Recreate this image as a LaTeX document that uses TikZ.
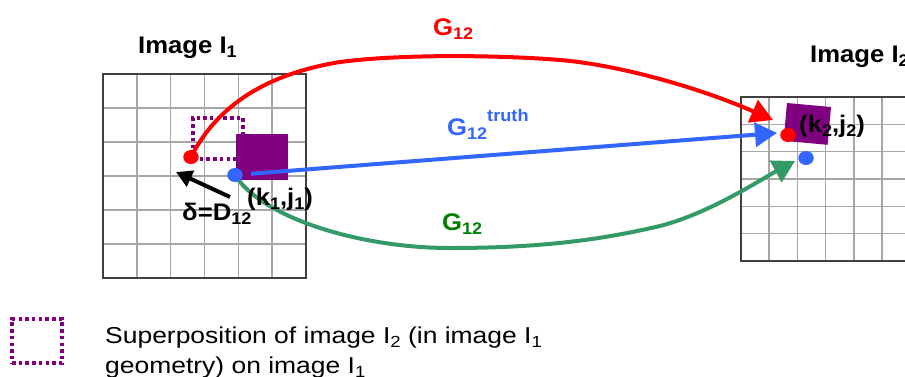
\documentclass[tikz,border=0pt]{standalone}
\usepackage{fontspec}
\usepackage{graphicx}
\setmainfont[FakeStretch=1.07]{Liberation Sans}
\newfontfamily\legfont[FakeStretch=1.15]{Liberation Sans}
\usetikzlibrary{arrows.meta}
\definecolor{pred}{HTML}{FF0000}
\definecolor{pblue}{HTML}{3366FF}
\definecolor{pgreen}{HTML}{339966}
\definecolor{tgreen}{HTML}{008000}
\definecolor{ppurple}{HTML}{800080}
\definecolor{gridgray}{HTML}{A6A6A6}
\definecolor{bordergray}{HTML}{404040}
\newcommand\sbs[1]{\raisebox{-0.2em}{\scalebox{0.7}{#1}}}
\tikzset{
  gridline/.style={draw=gridgray, line width=1.6pt},
  gridborder/.style={draw=bordergray, line width=2pt},
  dot/.style={ellipse, inner sep=0pt, minimum width=15.5pt, minimum height=14pt},
  bigtip/.style={-{Triangle[length=22pt,width=24pt]}},
  conn/.style={line width=4pt},
  lbl/.style={inner sep=0pt, anchor=base west, font=\fontsize{24}{28}\selectfont\bfseries},
  legtext/.style={inner sep=0pt, anchor=base west, font=\legfont\fontsize{23}{27}\selectfont},
  dotrect/.style={draw=ppurple, line width=3.5pt, dash pattern=on 3.5pt off 3.2pt},
}
\usetikzlibrary{shapes.geometric}
\begin{document}
\begin{tikzpicture}[x=1pt,y=-1pt]
\useasboundingbox (0,0) rectangle (905,376);
\clip (0,0) rectangle (905,376);
% ---------- image I1 grid
\foreach \i in {1,...,5} {
  \draw[gridline] ({103+\i*33.83},74) -- ({103+\i*33.83},278);
  \draw[gridline] (103,{74+\i*34}) -- (306,{74+\i*34});
}
\draw[gridborder] (103,74) rectangle (306,278);
% ---------- image I2 grid
\foreach \i in {1,...,5} {
  \draw[gridline] ({741+\i*28.2},97) -- ({741+\i*28.2},261);
  \draw[gridline] (741,{97+\i*27.33}) -- (912,{97+\i*27.33});
}
\draw[gridborder] (912,97) -- (741,97) -- (741,261) -- (912,261);
% ---------- superposition (dotted) and objects
\node[dotrect, minimum width=50pt, minimum height=41pt, inner sep=0pt] (sup1) at (218,138.5) {};
\node[fill=ppurple, minimum width=52pt, minimum height=46pt, inner sep=0pt] (obj1) at (262,157) {};
\fill[ppurple] (787,103) -- (831,107) -- (827.6,144.8) -- (783.6,140.8) -- cycle;
% ---------- key points
\coordinate (p1) at (191,157);
\coordinate (q1) at (235,175);
\coordinate (p2) at (788,135);
\coordinate (q2) at (806,158);
\coordinate (rtip) at (773,120);
\coordinate (btip) at (777,133);
\coordinate (gtip) at (795,161);
\coordinate (dstart) at (230,197);
\coordinate (dend) at (176,172);
% ---------- connectors
\draw[conn, pred, bigtip] (p1) .. controls (215,110) and (260,75) .. (340,62)
   .. controls (400,54) and (500,55) .. (560,60)
   .. controls (620,65) and (700,88) .. (rtip);
\draw[conn, pblue, bigtip, shorten <=16pt] (q1) -- (btip);
\draw[conn, pgreen, bigtip] (q1) .. controls (262,218) and (360,248) .. (450,248)
   .. controls (540,248) and (600,240) .. (660,226)
   .. controls (710,213) and (760,180) .. (gtip);
\draw[conn, black, -{Triangle[length=16pt,width=17pt]}] (dstart) -- (dend);
% ---------- dots
\node[dot, fill=pred] (r1) at (p1) {};
\node[dot, fill=pblue] (b1) at (q1) {};
\node[dot, fill=pred] (r2) at (p2) {};
\node[dot, fill=pblue] (b2) at (q2) {};
% ---------- labels
\node[lbl] (t1) at (138,53) {Image I\sbs{1}};
\node[lbl] (t2) at (810,62) {Image I\sbs{2}};
\node[lbl, text=pred] (gr) at (433,35) {G\sbs{12}};
\node[lbl, text=pblue] (gb) at (447,135) {G\sbs{12}};
\node[inner sep=0pt, anchor=base west, font=\fontsize{17}{20}\selectfont\bfseries, text=pblue] (gbt) at (487,121) {truth};
\node[lbl, text=tgreen] (gg) at (442,230) {G\sbs{12}};
\node[lbl] (delta) at (182,220) {δ=D\sbs{12}};
\node[lbl] (k1) at (247,205) {(k\sbs{1},j\sbs{1})};
\node[lbl] (k2) at (799,132) {(k\sbs{2},j\sbs{2})};
% ---------- legend
\node[dotrect, minimum width=50pt, minimum height=44pt, inner sep=0pt] (key) at (37,341) {};
\node[legtext] (leg1) at (105,343) {Superposition of image I\sbs{2} (in image I\sbs{1}};
\node[legtext] (leg2) at (105,373) {geometry) on image I\sbs{1}};
\end{tikzpicture}
\end{document}
